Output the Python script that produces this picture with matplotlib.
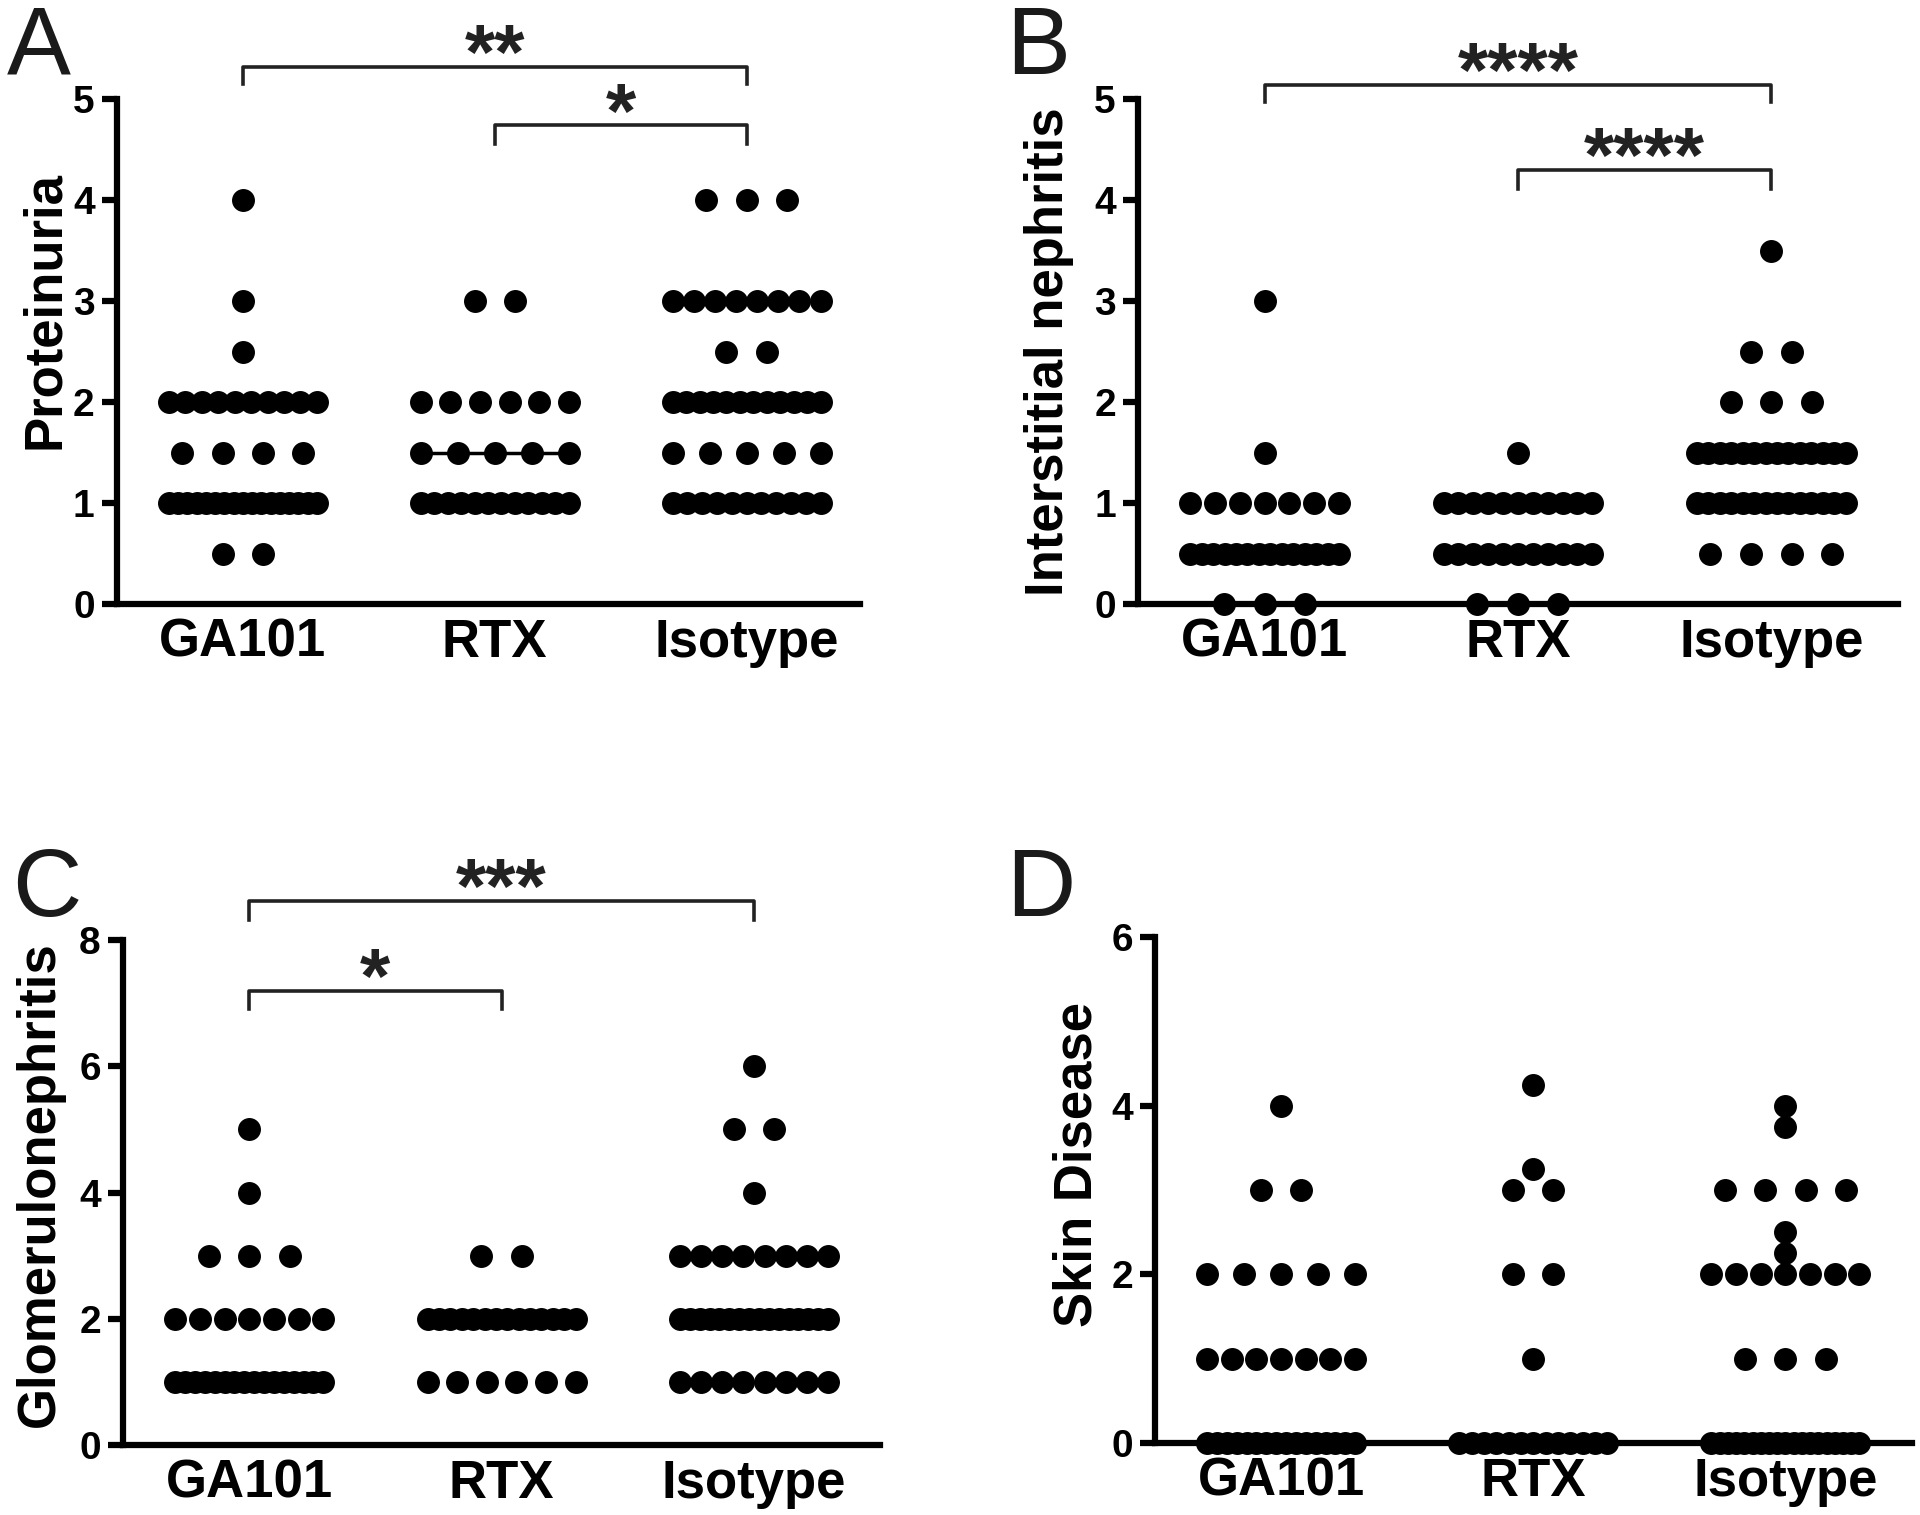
import numpy as np
import matplotlib.pyplot as plt

plt.rcParams['font.family'] = ['Liberation Sans', 'DejaVu Sans']

groups = ['GA101', 'RTX', 'Isotype']

# score -> number of mice
# A: proteinuria
prot_ga101 = {0.5: 2, 1: 17, 1.5: 4, 2: 10, 2.5: 1, 3: 1, 4: 1}
prot_rtx = {1: 12, 1.5: 5, 2: 6, 3: 2}
prot_iso = {1: 11, 1.5: 5, 2: 12, 2.5: 2, 3: 8, 4: 3}

# B: interstitial nephritis
inter_ga101 = {0: 3, 0.5: 14, 1: 7, 1.5: 1, 3: 1}
inter_rtx = {0: 3, 0.5: 11, 1: 11, 1.5: 1}
inter_iso = {0.5: 4, 1: 14, 1.5: 14, 2: 3, 2.5: 2, 3.5: 1}

# C: glomerulonephritis
glom_ga101 = {1: 16, 2: 7, 3: 3, 4: 1, 5: 1}
glom_rtx = {1: 6, 2: 14, 3: 2}
glom_iso = {1: 8, 2: 16, 3: 8, 4: 1, 5: 2, 6: 1}

# D: skin disease
skin_ga101 = {0: 16, 1: 7, 2: 5, 3: 2, 4: 1}
skin_rtx = {0: 13, 1: 1, 2: 2, 3: 2, 3.25: 1, 4.25: 1}
skin_iso = {0: 19, 1: 3, 2: 7, 2.25: 1, 2.5: 1, 3: 4, 3.75: 1, 4: 1}

# significance brackets: (group 1, group 2, stars)
sig_a = [(0, 2, '**'), (1, 2, '*')]
sig_b = [(0, 2, '****'), (1, 2, '****')]
sig_c = [(0, 2, '***'), (0, 1, '*')]

STEP = 0.16      # spacing of dots in a sparse row
ROW_W = 0.587    # widest a row may get (between outer dot centres)


def row_offsets(n):
    if n == 1:
        return np.zeros(1)
    s = min(STEP, ROW_W / (n - 1))
    return (np.arange(n) - (n - 1) / 2) * s


def draw_panel(ax, data, xlim, ylim, yticks, ylabel, lab_xy, brackets, br_y):
    for i, d in enumerate(data):
        xs, ys = [], []
        for val, n in d.items():
            xs.extend(i + row_offsets(n))
            ys.extend([val] * n)
        ax.plot(xs, ys, 'o', ms=15.5, color='black', mec='black',
                clip_on=False, zorder=3)
        med = np.median(np.repeat(list(d.keys()), list(d.values())))
        ax.hlines(med, i - ROW_W / 2, i + ROW_W / 2, color='black',
                  lw=2.5, zorder=2)

    ax.set_xlim(*xlim)
    ax.set_ylim(*ylim)
    ax.set_yticks(yticks)
    ax.set_yticklabels([str(t) for t in yticks], fontsize=28,
                       fontweight='bold')
    ax.set_xticks([0, 1, 2])
    ax.set_xticklabels(groups, fontsize=38, fontweight='bold')
    ax.tick_params(axis='x', length=0, pad=10)
    ax.tick_params(axis='y', length=11, width=4.5, pad=5)
    for s in ['top', 'right']:
        ax.spines[s].set_visible(False)
    for s in ['left', 'bottom']:
        ax.spines[s].set_linewidth(4.5)
    ax.set_ylabel(ylabel, fontsize=38, fontweight='bold')
    ax.yaxis.set_label_coords(*lab_xy)

    for (g1, g2, stars), (yl, yd) in zip(brackets, br_y):
        ax.plot([g1, g1, g2, g2], [yd, yl, yl, yd], color='#222222',
                lw=2.6, clip_on=False)
        ax.annotate(stars, xy=((g1 + g2) / 2, yl), xytext=(0, -9),
                    textcoords='offset points', ha='center', va='baseline',
                    fontsize=56, fontweight='bold', color='#222222',
                    annotation_clip=False)


fig = plt.figure(figsize=(19.2, 15.15), dpi=100)

ax_a = fig.add_axes([0.0609, 0.6013, 0.3870, 0.3333])
ax_b = fig.add_axes([0.5927, 0.6013, 0.3958, 0.3333])
ax_c = fig.add_axes([0.0641, 0.0462, 0.3943, 0.3333])
ax_d = fig.add_axes([0.6016, 0.0475, 0.3940, 0.3340])

draw_panel(ax_a, [prot_ga101, prot_rtx, prot_iso], (-0.5, 2.45), (0, 5),
           [0, 1, 2, 3, 4, 5], 'Proteinuria', (-0.063, 0.582), sig_a,
           [(5.32, 5.15), (4.74, 4.56)])
draw_panel(ax_b, [inter_ga101, inter_rtx, inter_iso], (-0.5, 2.5), (0, 5),
           [0, 1, 2, 3, 4, 5], 'Interstitial nephritis', (-0.084, 0.5), sig_b,
           [(5.14, 4.97), (4.30, 4.11)])
draw_panel(ax_c, [glom_ga101, glom_rtx, glom_iso], (-0.5, 2.5), (0, 8),
           [0, 2, 4, 6, 8], 'Glomerulonephritis', (-0.077, 0.516), sig_c,
           [(8.62, 8.32), (7.2, 6.9)])
draw_panel(ax_d, [skin_ga101, skin_rtx, skin_iso], (-0.5, 2.5), (0, 6),
           [0, 2, 4, 6], 'Skin Disease', (-0.069, 0.55), [], [])

for letter, x, y in [('A', 7, 74), ('B', 1006, 74), ('C', 12, 916), ('D', 1006, 916)]:
    fig.text(x / 1920, 1 - y / 1515, letter, fontsize=69, ha='left',
             va='baseline', color='#1a1a1a')

fig.savefig('out.png', dpi=100)
